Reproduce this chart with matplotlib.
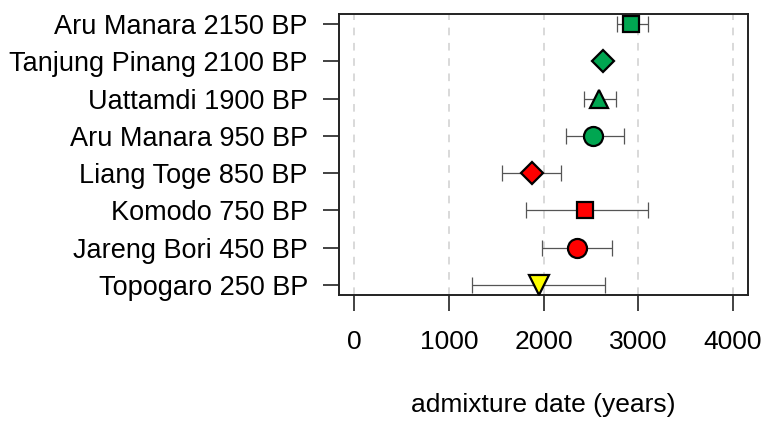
import matplotlib
matplotlib.use('Agg')
import matplotlib.pyplot as plt

# datos
etiquetas = ['Aru Manara 2150 BP', 'Tanjung Pinang 2100 BP', 'Uattamdi 1900 BP',
             'Aru Manara 950 BP', 'Liang Toge 850 BP', 'Komodo 750 BP',
             'Jareng Bori 450 BP', 'Topogaro 250 BP']
fechas = [2925, 2632, 2587, 2523, 1875, 2435, 2351, 1949]
err_bajo = [2774, 2605, 2425, 2241, 1565, 1818, 1981, 1244]
err_alto = [3101, 2660, 2763, 2848, 2182, 3108, 2727, 2653]
colores = ['#00a651', '#00a651', '#00a651', '#00a651',
           '#ff0000', '#ff0000', '#ff0000', '#ffff00']
marcadores = ['s', 'D', '^', 'o', 'D', 's', 'o', 'v']
tamanos = [11.5, 11.0, 13.5, 13.7, 11.0, 11.5, 13.7, 15.0]
xticks = [0, 1000, 2000, 3000, 4000]

plt.rcParams['font.family'] = ['Liberation Sans', 'DejaVu Sans']

fig = plt.figure(figsize=(7.67, 4.21), dpi=100)
ax = fig.add_axes([0.442, 0.2993, 0.533, 0.6674])

for x in xticks:
    ax.axvline(x, color='#d0d0d0', linestyle=(0, (5, 5)), linewidth=1.1, zorder=0)

ypos = list(range(1, len(etiquetas) + 1))
for i, y in enumerate(ypos):
    ax.errorbar(fechas[i], y,
                xerr=[[fechas[i] - err_bajo[i]], [err_alto[i] - fechas[i]]],
                fmt='none', ecolor='#555555', elinewidth=0.9, capsize=5.8,
                capthick=0.9, zorder=2)
    ax.plot(fechas[i], y, marker=marcadores[i], markersize=tamanos[i],
            markerfacecolor=colores[i], markeredgecolor='black',
            markeredgewidth=1.6, linestyle='none', zorder=3)

ax.set_xlim(-162, 4159)
ax.set_ylim(8.27, 0.73)
ax.set_xticks(xticks)
ax.set_xticklabels([str(t) for t in xticks])
ax.set_yticks(ypos)
ax.set_yticklabels(etiquetas)
ax.tick_params(axis='both', direction='out', length=11.5, width=1.2,
               color='#222222')
ax.tick_params(axis='x', pad=14, labelsize=19)
ax.tick_params(axis='y', pad=11, labelsize=19.5)
for s in ax.spines.values():
    s.set_linewidth(1.4)
    s.set_color('#222222')

ax.set_xlabel('admixture date (years)', fontsize=19, labelpad=28)

fig.savefig('out.png', dpi=100)
